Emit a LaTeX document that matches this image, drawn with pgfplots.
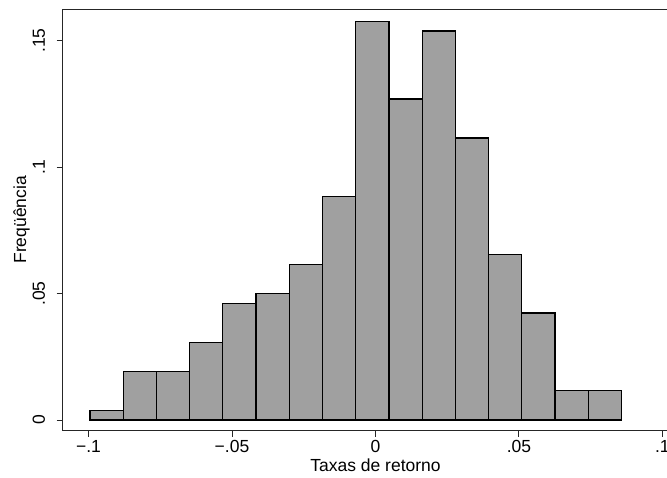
\documentclass[border=0pt]{standalone}
\usepackage{fontspec}
\setmainfont{Liberation Sans}
\usepackage{pgfplots}
\pgfplotsset{compat=1.18}
\definecolor{barfill}{RGB}{160,160,160}
\begin{document}
\begin{tikzpicture}[x=1pt,y=1pt]
\begin{axis}[
  at={(62.5pt,46.5pt)}, anchor=south west,
  scale only axis,
  width=626pt, height=421.2pt,
  xmin=-0.10906, xmax=0.1091,
  ymin=-0.00415, ymax=0.1624,
  axis line style={line width=0.9pt, black!85},
  tick style={line width=0.9pt, black!85},
  tick align=outside,
  major tick length=6pt,
  xtick pos=bottom, ytick pos=left,
  xtick={-0.1,-0.05,0,0.05,0.1},
  xticklabels={−.1,−.05,0,.05,.1},
  ytick={0,0.05,0.1,0.15},
  yticklabels={0,.05,.1,.15},
  yticklabel style={xshift=-8pt, rotate=90, anchor=south},
  every tick label/.append style={font=\fontsize{17.5}{20}\selectfont},
  label style={font=\fontsize{17.5}{20}\selectfont},
  xlabel={Taxas de retorno},
  ylabel={Freqüência},
  xlabel style={yshift=0pt},
  ylabel style={yshift=-4pt},
  clip=false,
]
\addplot[ybar interval, fill=barfill, draw=black, line width=1.2pt] coordinates {
(-0.09948,0.003846)
(-0.08791,0.019231)
(-0.07633,0.019231)
(-0.06476,0.030769)
(-0.05318,0.046154)
(-0.04161,0.050000)
(-0.03003,0.061538)
(-0.01846,0.088462)
(-0.00688,0.157692)
(0.00469,0.126923)
(0.01627,0.153846)
(0.02784,0.111538)
(0.03942,0.065385)
(0.05099,0.042308)
(0.06257,0.011538)
(0.07414,0.011538)
(0.08572,0.011538)
};
\end{axis}
\pgfresetboundingbox
\path[use as bounding box] (0,0) rectangle (667,477);
\end{tikzpicture}
\end{document}
